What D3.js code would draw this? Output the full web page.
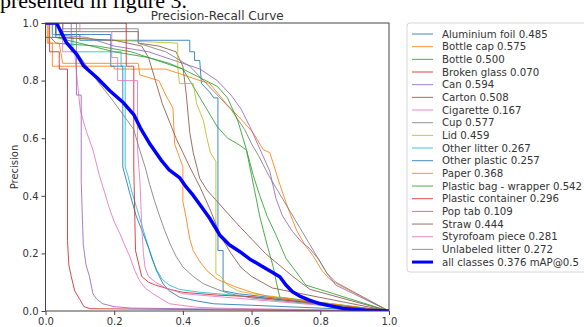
<!DOCTYPE html>
<html>
<head>
<meta charset="utf-8">
<script src="https://cdn.jsdelivr.net/npm/d3@7"></script>
<style>
  html, body { margin: 0; padding: 0; background: #fff; }
  svg { display: block; font-family: "DejaVu Sans", sans-serif; }
</style>
</head>
<body>
<svg id="chart" width="584" height="327"></svg>
<script>
// class names and AP@0.5, in legend order
const classNames = ["Aluminium foil", "Bottle cap", "Bottle", "Broken glass", "Can", "Carton",
  "Cigarette", "Cup", "Lid", "Other litter", "Other plastic", "Paper", "Plastic bag - wrapper",
  "Plastic container", "Pop tab", "Straw", "Styrofoam piece", "Unlabeled litter"];
const apValues = [0.485, 0.575, 0.500, 0.070, 0.594, 0.508, 0.167, 0.577, 0.459, 0.267,
  0.257, 0.368, 0.542, 0.296, 0.109, 0.444, 0.281, 0.272];
const allClassesAp = 0.376;

const xTicks = [0, 0.2, 0.4, 0.6, 0.8, 1.0];
const yTicks = [0, 0.2, 0.4, 0.6, 0.8, 1.0];

// [recall, precision]
const aluminiumFoil = [[0,1],[0.03,1],[0.03,0.96],[0.1,0.96],[0.1,0.94],[0.42,0.94],[0.42,0.9],[0.434,0.9],[0.434,0.87],[0.449,0.87],[0.454,0.79],[0.478,0.76],[0.49,0.74],[0.502,0.74],[0.502,0.21],[0.517,0.21],[0.517,0.07],[0.56,0.06],[1,0]];
const bottleCap = [[0,1],[0.008,1],[0.008,0.93],[0.02,0.93],[0.02,0.85],[0.2,0.85],[0.2,0.84],[0.35,0.84],[0.4,0.82],[0.45,0.8],[0.478,0.79],[0.526,0.72],[0.566,0.67],[0.604,0.62],[0.634,0.56],[0.653,0.55],[0.682,0.44],[0.705,0.36],[0.731,0.28],[0.755,0.23],[0.78,0.19],[0.805,0.14],[0.828,0.11],[0.847,0.095],[1,0]];
const bottle = [[0,1],[0,0.95],[0.015,0.95],[0.03,0.93],[0.15,0.92],[0.25,0.9],[0.3,0.88],[0.36,0.86],[0.4,0.84],[0.42,0.8],[0.45,0.74],[0.48,0.68],[0.5,0.64],[0.53,0.6],[0.56,0.58],[0.585,0.559],[0.6,0.47],[0.624,0.327],[0.645,0.23],[0.663,0.153],[0.672,0.1],[0.682,0.048],[1,0]];
const brokenGlass = [[0,1],[0.012,1],[0.012,0.9],[0.04,0.9],[0.04,0.84],[0.064,0.84],[0.064,0.245],[0.068,0.16],[0.075,0.12],[0.085,0.07],[0.1,0.04],[0.112,0.015],[0.13,0.008],[1,0]];
const can = [[0,1],[0.02,1],[0.02,0.96],[0.12,0.95],[0.2,0.92],[0.3,0.9],[0.4,0.86],[0.45,0.84],[0.5,0.8],[0.54,0.75],[0.57,0.7],[0.595,0.64],[0.625,0.56],[0.653,0.485],[0.671,0.39],[0.69,0.33],[0.719,0.276],[0.745,0.24],[0.768,0.218],[0.795,0.18],[0.816,0.137],[0.845,0.09],[1,0]];
const carton = [[0,1],[0.05,1],[0.05,0.97],[0.27,0.97],[0.27,0.93],[0.33,0.92],[0.38,0.9],[0.4,0.85],[0.41,0.75],[0.42,0.62],[0.43,0.55],[0.449,0.46],[0.47,0.42],[0.5,0.38],[0.53,0.34],[0.56,0.3],[0.6,0.25],[0.64,0.2],[0.68,0.16],[0.72,0.12],[0.77,0.075],[1,0]];
const cigarette = [[0,1],[0.05,1],[0.05,0.9],[0.085,0.9],[0.09,0.83],[0.101,0.7],[0.11,0.66],[0.12,0.62],[0.138,0.56],[0.157,0.47],[0.17,0.42],[0.185,0.36],[0.2,0.31],[0.216,0.27],[0.23,0.23],[0.245,0.19],[0.26,0.14],[0.274,0.105],[0.29,0.08],[0.313,0.06],[0.34,0.04],[0.362,0.025],[0.44,0.013],[0.5,0.01],[1,0]];
const cup = [[0,1],[0.05,1],[0.05,0.98],[0.27,0.98],[0.27,0.93],[0.35,0.9],[0.42,0.85],[0.46,0.8],[0.5,0.75],[0.54,0.7],[0.58,0.63],[0.6,0.58],[0.62,0.54],[0.65,0.47],[0.68,0.41],[0.71,0.35],[0.74,0.29],[0.77,0.23],[0.8,0.17],[0.82,0.13],[0.845,0.1],[1,0]];
const lid = [[0,1],[0.04,1],[0.04,0.95],[0.2,0.94],[0.385,0.93],[0.385,0.85],[0.39,0.79],[0.43,0.79],[0.44,0.72],[0.46,0.66],[0.47,0.6],[0.48,0.55],[0.496,0.52],[0.496,0.13],[0.51,0.12],[0.53,0.09],[0.56,0.07],[0.6,0.06],[1,0]];
const otherLitter = [[0,1],[0.02,1],[0.02,0.95],[0.08,0.95],[0.08,0.9],[0.22,0.9],[0.22,0.85],[0.232,0.85],[0.232,0.5],[0.24,0.47],[0.25,0.42],[0.265,0.36],[0.28,0.3],[0.295,0.24],[0.31,0.18],[0.325,0.14],[0.34,0.11],[0.36,0.09],[0.39,0.075],[0.45,0.065],[0.5,0.06],[0.546,0.055],[1,0]];
const otherPlastic = [[0,1],[0.03,1],[0.03,0.96],[0.19,0.96],[0.19,0.85],[0.225,0.85],[0.225,0.5],[0.235,0.455],[0.245,0.41],[0.264,0.33],[0.284,0.27],[0.303,0.21],[0.323,0.14],[0.342,0.095],[0.36,0.07],[0.39,0.048],[0.44,0.035],[0.49,0.025],[0.6,0.02],[1,0]];
const paper = [[0,1],[0.005,1],[0.005,0.93],[0.04,0.93],[0.05,0.86],[0.27,0.86],[0.274,0.82],[0.33,0.8],[0.35,0.75],[0.371,0.705],[0.376,0.58],[0.385,0.55],[0.4,0.5],[0.4,0.38],[0.41,0.32],[0.42,0.25],[0.43,0.21],[0.45,0.17],[0.47,0.14],[0.5,0.11],[0.55,0.085],[0.6,0.065],[0.65,0.05],[1,0]];
const plasticBag = [[0,1],[0,0.95],[0.03,0.95],[0.1,0.93],[0.2,0.9],[0.3,0.88],[0.35,0.86],[0.4,0.84],[0.45,0.81],[0.5,0.78],[0.53,0.74],[0.56,0.66],[0.585,0.56],[0.605,0.47],[0.624,0.4],[0.645,0.33],[0.671,0.264],[0.7,0.183],[0.729,0.137],[0.758,0.09],[1,0]];
const plasticContainer = [[0,1],[0.235,1],[0.235,0.85],[0.257,0.85],[0.257,0.5],[0.262,0.21],[0.27,0.17],[0.28,0.12],[0.3,0.1],[0.32,0.09],[0.362,0.075],[0.4,0.065],[0.5,0.055],[0.6,0.05],[1,0]];
const popTab = [[0,1],[0.075,1],[0.075,0.9],[0.09,0.9],[0.09,0.75],[0.104,0.75],[0.104,0.45],[0.108,0.3],[0.11,0.23],[0.118,0.16],[0.128,0.12],[0.138,0.06],[0.15,0.04],[0.167,0.025],[0.2,0.015],[0.25,0.01],[1,0]];
const straw = [[0,1],[0.03,1],[0.03,0.95],[0.2,0.94],[0.28,0.92],[0.3,0.88],[0.32,0.8],[0.34,0.72],[0.36,0.66],[0.38,0.6],[0.4,0.55],[0.42,0.5],[0.45,0.43],[0.48,0.35],[0.51,0.26],[0.54,0.2],[0.57,0.15],[0.6,0.12],[0.63,0.1],[0.66,0.08],[1,0]];
const styrofoam = [[0,1],[0.1,1],[0.1,0.97],[0.193,0.97],[0.193,0.88],[0.21,0.88],[0.21,0.8],[0.268,0.8],[0.268,0.56],[0.275,0.45],[0.28,0.3],[0.285,0.2],[0.29,0.15],[0.3,0.12],[0.32,0.1],[0.35,0.08],[0.4,0.06],[0.5,0.05],[0.55,0.045],[1,0]];
const unlabeledLitter = [[0,1],[0.09,1],[0.09,0.9],[0.12,0.85],[0.15,0.8],[0.19,0.74],[0.227,0.68],[0.257,0.63],[0.274,0.56],[0.29,0.5],[0.303,0.44],[0.318,0.38],[0.332,0.33],[0.347,0.28],[0.362,0.235],[0.38,0.19],[0.4,0.153],[0.43,0.12],[0.459,0.095],[0.5,0.075],[0.536,0.06],[0.6,0.045],[1,0]];
const allClasses = [[0,1],[0.032,1],[0.061,0.932],[0.091,0.891],[0.111,0.851],[0.15,0.81],[0.188,0.764],[0.227,0.723],[0.257,0.682],[0.276,0.636],[0.305,0.578],[0.339,0.52],[0.36,0.49],[0.391,0.462],[0.41,0.43],[0.429,0.403],[0.455,0.36],[0.478,0.322],[0.507,0.264],[0.535,0.23],[0.566,0.206],[0.595,0.18],[0.624,0.16],[0.655,0.138],[0.682,0.119],[0.7,0.09],[0.719,0.067],[0.74,0.052],[0.768,0.038],[0.8,0.025],[0.865,0.009],[0.93,0.003],[1,0]];

const curves = [aluminiumFoil, bottleCap, bottle, brokenGlass, can, carton, cigarette, cup, lid,
  otherLitter, otherPlastic, paper, plasticBag, plasticContainer, popTab, straw, styrofoam, unlabeledLitter];

const svg = d3.select("#chart");
const plot = { left: 45.5, right: 389, top: 23, bottom: 311 };

// cut-off caption line from the page above the figure
svg.append("text")
  .attr("x", 0)
  .attr("y", 8)
  .style("font-family", "'Liberation Serif', 'Times New Roman', serif")
  .style("font-size", "22px")
  .attr("fill", "#000")
  .text("presented in figure 3.");

const x = d3.scaleLinear().domain([0, 1]).range([plot.left, plot.right]);
const y = d3.scaleLinear().domain([0, 1]).range([plot.bottom, plot.top]);

svg.append("clipPath").attr("id", "clip")
  .append("rect")
  .attr("x", plot.left).attr("y", plot.top)
  .attr("width", plot.right - plot.left).attr("height", plot.bottom - plot.top);

const line = d3.line().x(d => x(d[0])).y(d => y(d[1]));
const colors = d3.schemeCategory10;

const lines = svg.append("g").attr("clip-path", "url(#clip)");
lines.selectAll("path.cls")
  .data(curves)
  .enter()
  .append("path")
  .attr("class", "cls")
  .attr("d", line)
  .attr("fill", "none")
  .attr("stroke", (d, i) => colors[i % 10])
  .attr("stroke-width", 1)
  .attr("stroke-opacity", 0.85);

lines.append("path")
  .datum(allClasses)
  .attr("d", line)
  .attr("fill", "none")
  .attr("stroke", "blue")
  .attr("stroke-width", 3.5)
  .attr("stroke-linejoin", "round");

// axes
const xAxis = svg.append("g")
  .attr("transform", "translate(0," + plot.bottom + ")")
  .call(d3.axisBottom(x).tickValues(xTicks).tickFormat(d3.format(".1f")).tickSize(4).tickPadding(3));
const yAxis = svg.append("g")
  .attr("transform", "translate(" + plot.left + ",0)")
  .call(d3.axisLeft(y).tickValues(yTicks).tickFormat(d3.format(".1f")).tickSize(4).tickPadding(3));

[xAxis, yAxis].forEach(g => {
  g.select(".domain").remove();
  g.selectAll("line").attr("stroke", "#444");
  g.selectAll("text").attr("fill", "#333").style("font-size", "10px").style("font-family", "'DejaVu Sans', sans-serif");
});

svg.append("rect")
  .attr("x", plot.left).attr("y", plot.top)
  .attr("width", plot.right - plot.left).attr("height", plot.bottom - plot.top)
  .attr("fill", "none")
  .attr("stroke", "#444")
  .attr("stroke-width", 1);

svg.append("text")
  .attr("x", (plot.left + plot.right) / 2)
  .attr("y", 19.5)
  .attr("text-anchor", "middle")
  .attr("fill", "#333")
  .style("font-size", "12px")
  .text("Precision-Recall Curve");

svg.append("text")
  .attr("transform", "translate(18," + ((plot.top + plot.bottom) / 2) + ") rotate(-90)")
  .attr("text-anchor", "middle")
  .attr("fill", "#333")
  .style("font-size", "10px")
  .text("Precision");

// legend
const legendLabels = classNames.map((n, i) => n + " " + apValues[i].toFixed(3))
  .concat(["all classes " + allClassesAp.toFixed(3) + " mAP@0.5"]);
const rowH = 12.67;
const legend = svg.append("g");
legend.append("rect")
  .attr("x", 407).attr("y", 23)
  .attr("width", 190).attr("height", 249)
  .attr("rx", 3)
  .attr("fill", "#fff")
  .attr("stroke", "#d6d6d6");

const rows = legend.selectAll("g.row")
  .data(legendLabels)
  .enter()
  .append("g")
  .attr("class", "row")
  .attr("transform", (d, i) => "translate(0," + (34 + i * rowH) + ")");

rows.append("line")
  .attr("x1", 412).attr("x2", 433)
  .attr("stroke", (d, i) => i < classNames.length ? colors[i % 10] : "blue")
  .attr("stroke-width", (d, i) => i < classNames.length ? 1 : 3)
  .attr("stroke-opacity", (d, i) => i < classNames.length ? 0.85 : 1);

rows.append("text")
  .attr("x", 442)
  .attr("y", 3.6)
  .attr("fill", "#333")
  .style("font-size", "10.2px")
  .text(d => d);
</script>
</body>
</html>
